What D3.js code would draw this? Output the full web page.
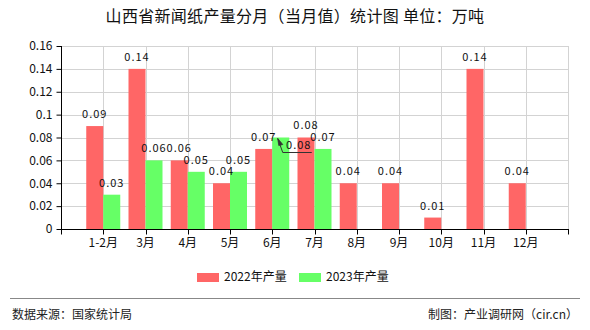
<!DOCTYPE html>
<html>
<head>
<meta charset="utf-8">
<script src="https://cdn.jsdelivr.net/npm/d3@7"></script>
<style>
  html, body { margin: 0; padding: 0; background: #fff; }
  svg { display: block; }
  text { font-family: "Noto Sans CJK SC", "DejaVu Sans", sans-serif; }
</style>
</head>
<body>
<svg id="chart" width="590" height="330"></svg>
<script>
const categories = ["1-2月","3月","4月","5月","6月","7月","8月","9月","10月","11月","12月"];
const values2022 = [0.09, 0.14, 0.06, 0.04, 0.07, 0.08, 0.04, 0.04, 0.01, 0.14, 0.04];
const values2023 = [0.03, 0.06, 0.05, 0.05, 0.08, 0.07, null, null, null, null, null];
const seriesNames = ["2022年产量", "2023年产量"];
const yTicks = [0, 0.02, 0.04, 0.06, 0.08, 0.1, 0.12, 0.14, 0.16];
const titleText = "山西省新闻纸产量分月（当月值）统计图 单位：万吨";
const sourceText = "数据来源：国家统计局";
const creditText = "制图：产业调研网（cir.cn）";

(function () {
const colors = ["#ff6666", "#66ff66"];
const svg = d3.select("#chart");
const pL = 61, pR = 568, pT = 46, pB = 229;

const x = d3.scalePoint().domain(categories).range([pL, pR]).padding(1);
const step = x.step();
const sub = d3.scaleBand().domain(seriesNames).range([-17, 17]).padding(0);
const y = d3.scaleLinear().domain([0, 0.16]).range([pB, pT]);

// title
svg.append("text").attr("x", 295).attr("y", 18).attr("text-anchor", "middle")
  .attr("dominant-baseline", "middle").attr("font-size", 16).attr("fill", "#111")
  .attr("letter-spacing", 0.3)
  .text(titleText);

// grid
const grid = svg.append("g");
grid.selectAll("line.h").data(yTicks.slice(1)).join("line")
  .attr("x1", pL).attr("x2", pR)
  .attr("y1", d => Math.round(y(d)) + 0.5).attr("y2", d => Math.round(y(d)) + 0.5)
  .attr("stroke", "#d3d3d3");
const vpos = d3.range(1, categories.length + 2).map(i => pL + i * step);
grid.selectAll("line.v").data(vpos).join("line")
  .attr("x1", d => Math.round(d) + 0.5).attr("x2", d => Math.round(d) + 0.5)
  .attr("y1", pT).attr("y2", pB)
  .attr("stroke", "#d3d3d3");

// bars
const seriesData = [values2022, values2023];
seriesData.forEach((vals, si) => {
  const rows = categories.map((c, i) => ({c, v: vals[i]})).filter(d => d.v != null);
  svg.append("g").selectAll("rect").data(rows).join("rect")
    .attr("x", d => x(d.c) + sub(seriesNames[si]))
    .attr("width", sub.bandwidth())
    .attr("y", d => y(d.v))
    .attr("height", d => y(0) - y(d.v))
    .attr("fill", colors[si]);
});

// value labels
const labelG = svg.append("g").attr("font-size", 11).attr("fill", "#111")
  .attr("text-anchor", "middle").attr("letter-spacing", 1);
seriesData.forEach((vals, si) => {
  categories.forEach((c, i) => {
    const v = vals[i];
    if (v == null) return;
    const cx = x(c) + sub(seriesNames[si]) + sub.bandwidth() / 2;
    if (si === 1 && c === "6月") {
      const tx = cx + 18, ty = y(v) + 9;
      labelG.append("text").attr("x", tx).attr("y", ty).attr("dominant-baseline", "middle")
        .text(String(v));
      const ax = cx - 3, ay = y(v) + 1;
      svg.append("path")
        .attr("d", `M${ax},${ay} L${ax + 5},${ay + 14} L${ax + 34},${ay + 14}`)
        .attr("fill", "none").attr("stroke", "#333").attr("stroke-width", 1);
      svg.append("path")
        .attr("d", `M${ax},${ay} L${ax + 5},${ay + 6} L${ax + 1},${ay + 7} Z`)
        .attr("fill", "#333").attr("stroke", "#333").attr("stroke-width", 0.8);
      return;
    }
    labelG.append("text").attr("x", cx).attr("y", y(v) - 11).attr("dominant-baseline", "middle")
      .text(String(v));
  });
});

// axes
const yAxis = d3.axisLeft(y).tickValues(yTicks).tickSize(5).tickPadding(4).tickFormat(d => String(d));
const gy = svg.append("g").attr("transform", `translate(${pL + 0.5},0)`).call(yAxis);
gy.select(".domain").attr("stroke", "#000").attr("d", `M0,${pT}V${pB}`);
gy.selectAll(".tick line").attr("stroke", "#000");
gy.selectAll(".tick text").attr("font-size", 12).attr("fill", "#111")
  .attr("font-family", "\"Noto Sans CJK SC\", sans-serif");

const gx = svg.append("g").attr("transform", `translate(0,${pB + 0.5})`);
gx.append("line").attr("x1", pL).attr("x2", pR + 1).attr("stroke", "#000");
gx.selectAll("line.t").data([pL].concat(vpos)).join("line")
  .attr("x1", d => Math.round(d) + 0.5).attr("x2", d => Math.round(d) + 0.5)
  .attr("y1", 0).attr("y2", 5).attr("stroke", "#000");
gx.selectAll("text").data(categories).join("text")
  .attr("x", d => x(d)).attr("y", 14).attr("text-anchor", "middle")
  .attr("dominant-baseline", "middle").attr("font-size", 12).attr("fill", "#111")
  .text(d => d);

// legend
const legend = svg.append("g");
const lx = [197, 299];
seriesNames.forEach((n, i) => {
  legend.append("rect").attr("x", lx[i]).attr("y", 273).attr("width", 22).attr("height", 9).attr("fill", colors[i]);
  legend.append("text").attr("x", lx[i] + 27).attr("y", 277.5).attr("dominant-baseline", "middle")
    .attr("font-size", 12).attr("fill", "#111").text(n);
});

// footer
svg.append("line").attr("x1", 10).attr("x2", 580).attr("y1", 298.5).attr("y2", 298.5).attr("stroke", "#888");
svg.append("text").attr("x", 12).attr("y", 316).attr("dominant-baseline", "middle")
  .attr("font-size", 12).attr("fill", "#222").text(sourceText);
svg.append("text").attr("x", 578).attr("y", 316).attr("dominant-baseline", "middle").attr("text-anchor", "end")
  .attr("font-size", 12).attr("fill", "#222").text(creditText);
})();
</script>
</body>
</html>
